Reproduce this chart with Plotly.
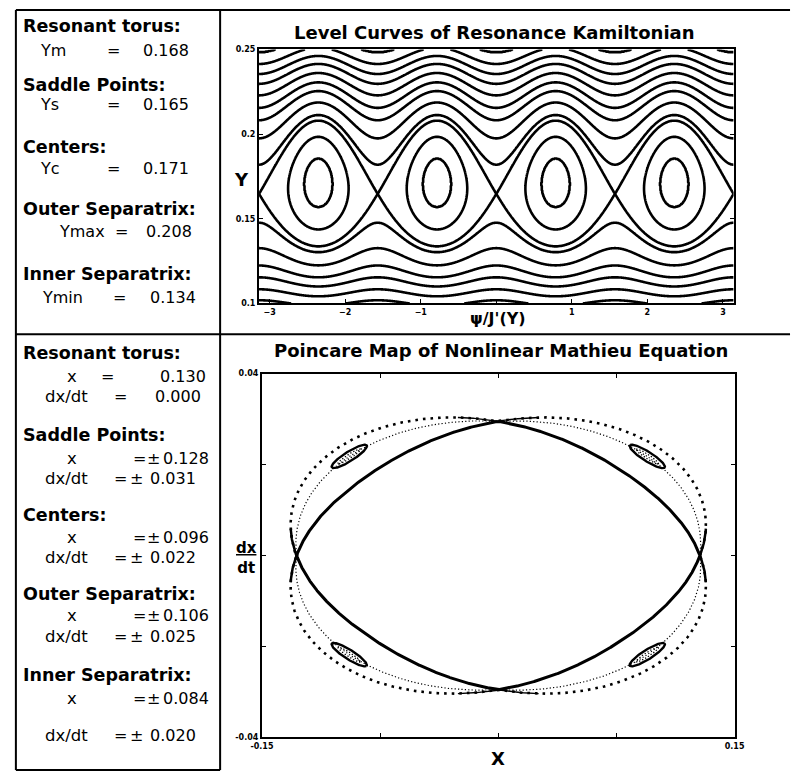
import numpy as np
import plotly.graph_objects as go

W, H = 801, 777
FONT = "DejaVu Sans"

# ---------------- values ----------------
# Top panel (resonance Hamiltonian), labels
Y_resonant = 0.168
Y_saddle = 0.165
Y_center = 0.171
Y_outer_sep = 0.208
Y_inner_sep = 0.134
# Y where each drawn level curve crosses the saddle column psi = 0 (above resonance)
level_Y_saddle_col = [0.1819, 0.1975, 0.2082, 0.2155, 0.2229, 0.2297, 0.2355, 0.2414, 0.2482]
# Y of the top of the closed island loops (island column psi = -pi/4)
island_loop_top_Y = [0.1857, 0.1984]
psi_ticks = [-3, -2, -1, 0, 1, 2, 3]
psi_ticktext = ["\u22123", "\u22122", "\u22121", "", "1", "2", "3"]
Y_ticks = [0.1, 0.15, 0.2, 0.25]
Y_ticktext = ["0.1", "0.15", "0.2", "0.25"]

# Bottom panel (Poincare map)
x_saddle = 0.128          # saddle on x axis
v_saddle = 0.0295         # saddle on dx/dt axis
r_inner_diag = 0.88       # thick inner curve, radius at 45 deg (in saddle units)
r_fine_diag = 1.045       # fine dotted curve
r_outer_diag = 1.13       # coarse dotted outer separatrix
r_island = 1.045          # island centres
island_len = 0.12         # island half-length (saddle units)
island_wid = 0.03         # island half-width
x_ticks = [-0.15, -0.075, 0, 0.075, 0.15]
x_ticktext = ["-0.15", "", "", "", "0.15"]
v_ticks = [-0.04, -0.02, 0, 0.02, 0.04]
v_ticktext = ["-0.04", "", "", "", "0.04"]

# Left text panels
top_heads = ["Resonant torus:", "Saddle Points:", "Centers:", "Outer Separatrix:", "Inner Separatrix:"]
top_syms = ["Ym", "Ys", "Yc", "Ymax", "Ymin"]
top_vals = ["0.168", "0.165", "0.171", "0.208", "0.134"]
bot_heads = ["Resonant torus:", "Saddle Points:", "Centers:", "Outer Separatrix:", "Inner Separatrix:"]
bot_x_vals = ["0.130", "0.128", "0.096", "0.106", "0.084"]
bot_v_vals = ["0.000", "0.031", "0.022", "0.025", "0.020"]
bot_pm = [False, True, True, True, True]

# ---------------- geometry (pixels) ----------------
TOP = dict(x0=254, x1=742, y0=46, y1=303)
BOT = dict(x0=257, x1=743, y0=374, y1=742)

# ---------------- resonance Hamiltonian model ----------------
n_exp = 1.5
stiff = 60.0


def K(Y, psi, eps):
    u = Y - Y_resonant
    return u ** 2 + stiff * u ** 4 + eps * (Y / Y_resonant) ** n_exp * np.cos(4 * psi)


Yfine = np.linspace(0.15, 0.18, 3001)


def K_sep(eps):
    return K(Yfine, 0.0, eps).min()


lo, hi = 1e-6, 5e-3
for _ in range(80):
    mid = 0.5 * (lo + hi)
    if K(Y_outer_sep, np.pi / 4, mid) > K_sep(mid):
        lo = mid
    else:
        hi = mid
eps = 0.5 * (lo + hi)
Ks = K_sep(eps)

levels = [K(y, 0.0, eps) for y in level_Y_saddle_col]
levels += [K(y, np.pi / 4, eps) for y in island_loop_top_Y]
levels.append(Ks)
lev = np.array(sorted(levels))

psi = np.linspace(-np.pi, np.pi, 961)
Yv = np.linspace(0.1, 0.25, 481)
PP, YY = np.meshgrid(psi, Yv)
Kg = K(YY, PP, eps)
xp = np.concatenate([[Kg.min() - 1.0], lev, [Kg.max() + 1.0]])
fp = np.arange(-1, len(lev) + 1, dtype=float)
Z = np.round(np.interp(Kg, xp, fp), 4)

fig = go.Figure()
fig.add_trace(go.Contour(
    x=psi, y=Yv, z=Z, xaxis="x", yaxis="y",
    contours=dict(start=0, end=len(lev) - 1, size=1, coloring="lines", showlabels=False),
    colorscale=[[0, "black"], [1, "black"]], showscale=False,
    line=dict(width=2.6, smoothing=0.6), hoverinfo="skip"))

# ---------------- Poincare map curves ----------------
phi = np.linspace(0, 2 * np.pi, 2881)


def branch(rdiag, ph):
    r = 1 + (rdiag - 1) * np.abs(np.sin(2 * ph))
    return x_saddle * r * np.cos(ph), v_saddle * r * np.sin(ph)


# coarse dotted outer curve
bx, by = branch(r_outer_diag, phi)
fig.add_trace(go.Scatter(x=bx, y=by, mode="lines", xaxis="x2", yaxis="y2",
                         line=dict(color="black", width=2.6, dash="2.6px,5px"), hoverinfo="skip"))
# fine dotted curve
bx, by = branch(r_fine_diag, phi)
fig.add_trace(go.Scatter(x=bx, y=by, mode="lines", xaxis="x2", yaxis="y2",
                         line=dict(color="black", width=1.2, dash="1.2px,2.2px"), hoverinfo="skip"))
# thick inner lens
bx, by = branch(r_inner_diag, phi)
fig.add_trace(go.Scatter(x=bx, y=by, mode="lines", xaxis="x2", yaxis="y2",
                         line=dict(color="black", width=3), hoverinfo="skip"))
# solid pieces of outer branch close to saddles (x-axis saddles bolder)
for angles, wdt in [([0, np.pi], 2.5), ([np.pi / 2, 3 * np.pi / 2], 1.4)]:
    segx, segy = [], []
    for a0 in angles:
        ph = np.linspace(a0 - np.radians(11), a0 + np.radians(11), 60)
        sx, sy = branch(r_outer_diag, ph)
        segx += list(sx) + [None]
        segy += list(sy) + [None]
    fig.add_trace(go.Scatter(x=segx, y=segy, mode="lines", xaxis="x2", yaxis="y2",
                             line=dict(color="black", width=wdt), hoverinfo="skip"))

# islands
s = np.linspace(0, 2 * np.pi, 200)
ox, oy, ix, iy = [], [], [], []
for ac in np.radians([45, 135, 225, 315]):
    cu, cw = r_island * np.cos(ac), r_island * np.sin(ac)
    tu, tw = -np.sin(ac), np.cos(ac)
    nu, nw = np.cos(ac), np.sin(ac)
    u = cu + tu * island_len * np.cos(s) + nu * island_wid * np.sin(s)
    w = cw + tw * island_len * np.cos(s) + nw * island_wid * np.sin(s)
    ox += list(u * x_saddle) + [None]
    oy += list(w * v_saddle) + [None]
    u = cu + tu * island_len * 0.65 * np.cos(s) + nu * island_wid * 0.45 * np.sin(s)
    w = cw + tw * island_len * 0.65 * np.cos(s) + nw * island_wid * 0.45 * np.sin(s)
    ix += list(u * x_saddle) + [None]
    iy += list(w * v_saddle) + [None]
fig.add_trace(go.Scatter(x=ox, y=oy, mode="lines", xaxis="x2", yaxis="y2",
                         line=dict(color="black", width=2.4), hoverinfo="skip"))
fig.add_trace(go.Scatter(x=ix, y=iy, mode="lines", xaxis="x2", yaxis="y2",
                         line=dict(color="black", width=1.3, dash="1.3px,2px"), hoverinfo="skip"))

# ---------------- axes ----------------
tickfont = dict(family=FONT, size=8, color="black", weight="bold")
common = dict(showline=True, linewidth=2, linecolor="black", showgrid=False, zeroline=False,
              ticks="inside", ticklen=4, tickwidth=1.2, tickcolor="black", tickfont=tickfont)
fig.update_layout(
    width=W, height=H, margin=dict(l=0, r=0, t=0, b=0),
    paper_bgcolor="white", plot_bgcolor="white", showlegend=False,
    xaxis=dict(domain=[TOP["x0"] / W, TOP["x1"] / W], range=[-np.pi, np.pi], anchor="y",
               tickvals=psi_ticks, ticktext=psi_ticktext, mirror=True, **common),
    yaxis=dict(domain=[1 - TOP["y1"] / H, 1 - TOP["y0"] / H], range=[0.1, 0.25], anchor="x",
               tickvals=Y_ticks, ticktext=Y_ticktext, mirror="ticks", **common),
    xaxis2=dict(domain=[BOT["x0"] / W, BOT["x1"] / W], range=[-0.15, 0.15], anchor="y2",
                tickvals=x_ticks, ticktext=x_ticktext, mirror="ticks", **common),
    yaxis2=dict(domain=[1 - BOT["y1"] / H, 1 - BOT["y0"] / H], range=[-0.04, 0.04], anchor="x2",
                tickvals=v_ticks, ticktext=v_ticktext, mirror="ticks", **common),
)


def txt(x, y, s, size=16, bold=False, anchor="left"):
    fig.add_annotation(x=x / W, y=1 - y / H, xref="paper", yref="paper",
                       text=(f"<b>{s}</b>" if bold else s), showarrow=False,
                       xanchor=anchor, yanchor="middle",
                       font=dict(family=FONT, size=size, color="black"))


# titles and axis labels
txt(496, 29, "Level Curves of Resonance Kamiltonian", size=18, bold=True, anchor="center")
txt(503, 351, "Poincare Map of Nonlinear Mathieu Equation", size=18, bold=True, anchor="center")
txt(500, 318, "\u03c8/J'(Y)", size=16, bold=True, anchor="center")
txt(236, 178, "Y", size=18, bold=True, anchor="center")
txt(500, 763, "X", size=18, bold=True, anchor="center")
fig.add_annotation(x=241 / W, y=1 - 560 / H, xref="paper", yref="paper", showarrow=False,
                   text="<b><u>dx</u><br>dt</b>", xanchor="center", yanchor="middle",
                   font=dict(family=FONT, size=15, color="black"))

# top-left panel
th_y = [22, 82, 145, 207, 273]
tv_y = [47, 102, 166, 230, 297]
sym_x = [27, 27, 27, 46, 29]
eq_x = [104, 104, 104, 113, 111]
val_x = [133, 133, 133, 136, 140]
for i in range(5):
    txt(9, th_y[i], top_heads[i], size=17.5, bold=True)
    txt(sym_x[i], tv_y[i], top_syms[i], size=16)
    txt(eq_x[i], tv_y[i], "=", size=16, anchor="center")
    txt(val_x[i], tv_y[i], top_vals[i], size=16)

# bottom-left panel
bh_y = [353, 436, 517, 597, 679]
bx_y = [377, 460, 540, 619, 703]
bv_y = [397, 480, 560, 640, 740]
for i in range(5):
    txt(9, bh_y[i], bot_heads[i], size=17.5, bold=True)
    txt(54, bx_y[i], "x", size=16.5)
    txt(32, bv_y[i], "dx/dt", size=16.5)
    if bot_pm[i]:
        txt(131, bx_y[i], "=", size=16, anchor="center")
        txt(145, bx_y[i], "\u00b1", size=16, anchor="center")
        txt(153, bx_y[i], bot_x_vals[i], size=16)
        txt(112, bv_y[i], "=", size=16, anchor="center")
        txt(128, bv_y[i], "\u00b1", size=16, anchor="center")
        txt(140, bv_y[i], bot_v_vals[i], size=16)
    else:
        txt(98, bx_y[i], "=", size=16, anchor="center")
        txt(150, bx_y[i], bot_x_vals[i], size=16)
        txt(112, bv_y[i], "=", size=16, anchor="center")
        txt(145, bv_y[i], bot_v_vals[i], size=16)

# panel frame lines
lines = [(4, 6, 800, 6), (4, 6, 4, 775), (214, 6, 214, 775), (4, 334, 800, 334), (4, 775, 214, 775)]
for x0, y0, x1, y1 in lines:
    fig.add_shape(type="line", xref="paper", yref="paper", x0=x0 / W, y0=1 - y0 / H,
                  x1=x1 / W, y1=1 - y1 / H, line=dict(color="black", width=2))

fig.write_html("out.html", config={"displayModeBar": False},
               post_script="document.body.style.margin='0px';")
